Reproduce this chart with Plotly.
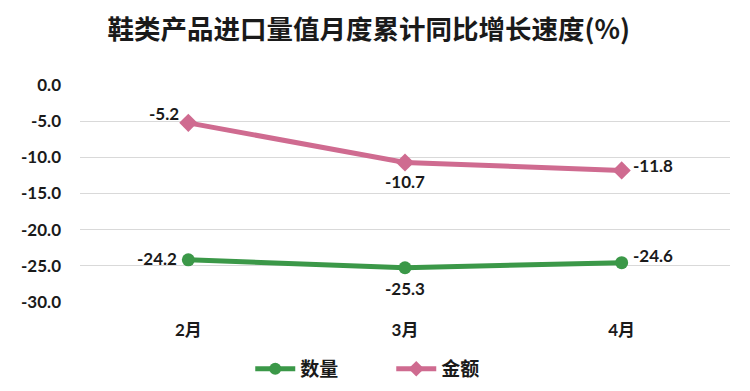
import plotly.graph_objects as go

categories = ["2月", "3月", "4月"]
qty = [-24.2, -25.3, -24.6]
amount = [-5.2, -10.7, -11.8]
series_names = ["数量", "金额"]
y_ticks = [0, -5, -10, -15, -20, -25, -30]
y_tick_labels = ["0.0", "-5.0", "-10.0", "-15.0", "-20.0", "-25.0", "-30.0"]

GREEN = "#3B9848"
PINK = "#CF6B90"
FONT = "Lato, 'Noto Sans CJK SC', sans-serif"

fig = go.Figure()
fig.add_trace(go.Scatter(
    x=categories, y=qty, name=series_names[0], mode="lines+markers",
    line=dict(color=GREEN, width=5),
    marker=dict(symbol="circle", size=13, color=GREEN),
))
fig.add_trace(go.Scatter(
    x=categories, y=amount, name=series_names[1], mode="lines+markers",
    line=dict(color=PINK, width=5),
    marker=dict(symbol="diamond", size=14, color=PINK),
))

# label placement (xanchor, yanchor, xshift, yshift) per point
qty_place = [("right", "middle", -9, 1), ("center", "top", 0, -8), ("left", "middle", 9, 7)]
amt_place = [("right", "middle", -7, 9), ("center", "top", 0, -6), ("left", "middle", 9, 5)]

for vals, places in ((qty, qty_place), (amount, amt_place)):
    for c, v, (xa, ya, xs, ys) in zip(categories, vals, places):
        fig.add_annotation(
            x=c, y=v, text=f"{v:.1f}", showarrow=False,
            xanchor=xa, yanchor=ya, xshift=xs, yshift=ys,
            font=dict(family=FONT, size=17, color="#1a1a1a", weight="bold"),
        )

fig.update_layout(
    width=750, height=391,
    margin=dict(l=72, r=28, t=77, b=97, autoexpand=False),
    paper_bgcolor="white", plot_bgcolor="white",
    title=dict(
        text="<b>鞋类产品进口量值月度累计同比增长速度(%)</b>",
        x=0.481, xref="container", xanchor="center",
        y=0.945, yref="container", yanchor="middle",
        font=dict(family="'Noto Sans CJK SC', sans-serif", size=26.5, color="#1a1a1a"),
    ),
    showlegend=True,
    legend=dict(
        orientation="h", x=0.511, xref="container", xanchor="center",
        y=0.077, yref="container", yanchor="middle",
        font=dict(family=FONT, size=19, color="#1a1a1a", weight="bold"),
        itemwidth=40, tracegroupgap=0, entrywidth=86, itemsizing="constant",
    ),
    font=dict(family=FONT, color="#1a1a1a"),
)
fig.update_xaxes(
    type="category", range=[-0.5, 2.5], showgrid=False, zeroline=False, showline=False,
    ticks="", ticklabelstandoff=16,
    tickfont=dict(family=FONT, size=17, color="#1a1a1a", weight="bold"),
)
fig.update_yaxes(
    range=[-30.05, 0.05], tickvals=y_ticks, ticktext=y_tick_labels,
    showgrid=True, gridcolor="#d9d9d9", gridwidth=1.2, zeroline=False,
    showline=False, ticks="", ticklabelstandoff=18,
    tickfont=dict(family=FONT, size=17, color="#1a1a1a", weight="bold"),
)

fig.write_html("out.html")
